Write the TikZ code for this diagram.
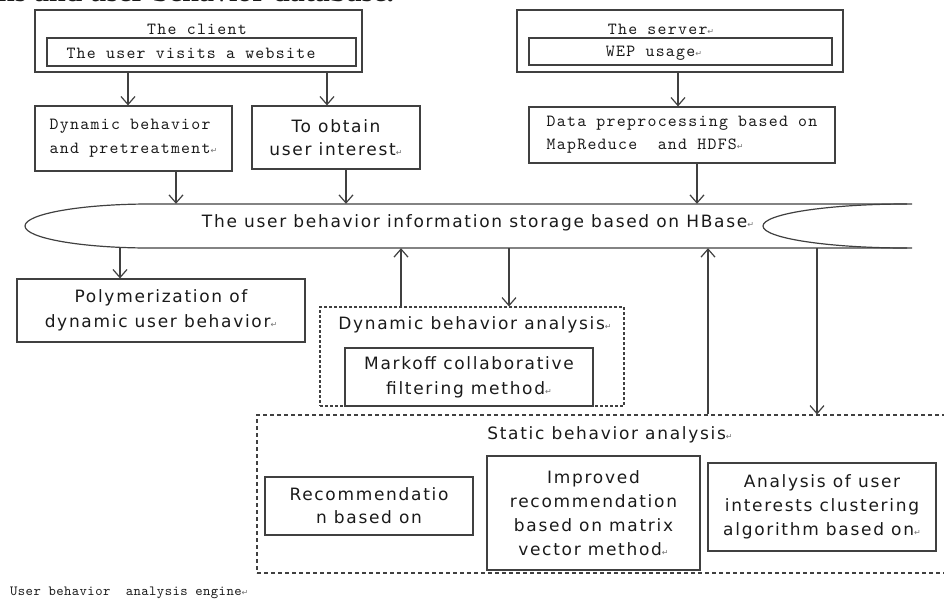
\documentclass[tikz,border=0pt]{standalone}
\usepackage{fontspec}
\setsansfont[LetterSpace=10]{DejaVu Sans}
\newfontfamily\monofont[LetterSpace=7.6]{lmmono10-regular.otf}
\newfontfamily\footfont[LetterSpace=3]{lmmono10-regular.otf}
\newfontfamily\symfont{DejaVu Sans}
\newfontfamily\capfont{Liberation Serif}
\usetikzlibrary{arrows.meta,calc}
\definecolor{linec}{HTML}{404040}
\definecolor{textc}{HTML}{1A1A1A}
\newcommand\pmark{{\symfont\fontsize{8}{8}\selectfont\textcolor{black!55}{↵}}}
\begin{document}
\begin{tikzpicture}[x=1pt,y=-1pt,
  lin/.style={draw=linec,line width=1.2pt},
  box/.style={lin,rectangle,inner sep=0pt,text=textc},
  dashbox/.style={draw=linec,line width=1.1pt,dash pattern=on 4pt off 3pt,rectangle,inner sep=0pt},
  dotbox/.style={draw=linec,line width=1.1pt,dash pattern=on 3pt off 2pt,rectangle,inner sep=0pt},
  arr/.style={lin,-{Straight Barb[length=8pt,width=14pt,line width=1.2pt]}},
  mono/.style={font=\monofont\fontsize{17}{24}\selectfont,text=textc},
  sans/.style={font=\sffamily\fontsize{17}{25}\selectfont,text=textc},
  txt/.style={inner sep=0pt,text=textc}]
\useasboundingbox (0,0) rectangle (944,600);
% cut caption at the top
\node[txt,anchor=base west,font=\capfont\bfseries\fontsize{30}{32}\selectfont] (cap) at (-2,1) {ns and user behavior database.};
% client
\node[box,minimum width=327,minimum height=62] (client) at (198.5,41) {};
\node[txt,mono] (clientt) at (197,29) {The client};
\node[box,minimum width=309,minimum height=28,mono] (clientin) at (201.5,52) {};
\node[txt,mono] (clientint) at (191,53) {The user visits a website};
% server
\node[box,minimum width=326,minimum height=62] (server) at (680,41) {};
\node[txt,mono] (servert) at (661,29) {The server\pmark};
\node[box,minimum width=303,minimum height=27] (serverin) at (680.5,51.5) {};
\node[txt,mono] (serverint) at (654,53) {WEP usage\pmark};
% second row
\node[box,minimum width=197,minimum height=65,mono,align=left] (dynbeh) at (133.5,138.5) {Dynamic behavior\\and pretreatment\pmark};
\node[box,minimum width=168,minimum height=63,align=center,font=\sffamily\fontsize{17}{23}\selectfont] (interest) at (336,137.5) {To obtain\\user interest\pmark};
\node[box,minimum width=306,minimum height=56,align=left,font=\monofont\fontsize{17}{23}\selectfont] (dataprep) at (682,135) {Data preprocessing based on\\MapReduce\ \ and HDFS\pmark};
% storage
\node[inner sep=0pt,minimum width=890,minimum height=44] (store) at (467,226) {};
\draw[lin] (912,204) -- (150,204) .. controls (81,204) and (25,213.9) .. (25,226)
  .. controls (25,238.1) and (81,248) .. (150,248) -- (912,248);
\draw[lin] (907,204) .. controls (827.5,204) and (763,213.9) .. (763,226)
  .. controls (763,238.1) and (827.5,248) .. (907,248);
\node[txt,sans] (storet) at (478,223) {The user behavior information storage based on HBase\pmark};
% lower boxes
\node[box,minimum width=288,minimum height=63,sans,align=center] (poly) at (161,310.5) {Polymerization of\\dynamic user behavior\pmark};
\node[dotbox,minimum width=304,minimum height=99] (dynana) at (472,356.5) {};
\node[txt,sans] (dynanat) at (475,325) {Dynamic behavior analysis\pmark};
\node[box,minimum width=248,minimum height=58,sans,align=center] (markoff) at (469,377) {Markoff collaborative\\filtering method\pmark};
\node[dashbox,minimum width=703,minimum height=158] (static) at (608.5,494) {};
\node[txt,sans] (statict) at (610,435) {Static behavior analysis\pmark};
\node[box,minimum width=208,minimum height=58,align=center,font=\sffamily\fontsize{17}{23}\selectfont] (recom) at (369,506) {Recommendatio\\n based on};
\node[box,minimum width=213,minimum height=114,align=center,font=\sffamily\fontsize{17}{24}\selectfont] (improved) at (593.5,513) {Improved\\recommendation\\based on matrix\\vector method\pmark};
\node[box,minimum width=228,minimum height=88,align=center,font=\sffamily\fontsize{17}{24}\selectfont] (analysis) at (822,507) {Analysis of user\\interests clustering\\algorithm based on\pmark};
\node[txt,anchor=west,font=\footfont\fontsize{14}{16}\selectfont] (footer) at (10,593) {User behavior\ \ analysis engine\pmark};
% connector positions
\coordinate (x1) at (128,0);
\coordinate (x2) at (327,0);
\coordinate (x3) at (678,0);
\coordinate (x4) at (176,0);
\coordinate (x5) at (346,0);
\coordinate (x6) at (697,0);
\coordinate (x7) at (120,0);
\coordinate (x8) at (401,0);
\coordinate (x9) at (509,0);
\coordinate (x10) at (708,0);
\coordinate (x11) at (817,0);
\draw[arr] (x1 |- client.south) -- (x1 |- dynbeh.north);
\draw[arr] (x2 |- client.south) -- (x2 |- interest.north);
\draw[arr] (x3 |- server.south) -- (x3 |- dataprep.north);
\draw[arr] (x4 |- dynbeh.south) -- (x4 |- store.north);
\draw[arr] (x5 |- interest.south) -- (x5 |- store.north);
\draw[arr] (x6 |- dataprep.south) -- (x6 |- store.north);
\draw[arr] (x7 |- store.south) -- (x7 |- poly.north);
\draw[arr] (x8 |- dynana.north) -- (x8 |- store.south);
\draw[arr] (x9 |- store.south) -- (x9 |- dynana.north);
\draw[arr] (x10 |- static.north) -- (x10 |- store.south);
\draw[arr] (x11 |- store.south) -- (x11 |- static.north);
\end{tikzpicture}
\end{document}
